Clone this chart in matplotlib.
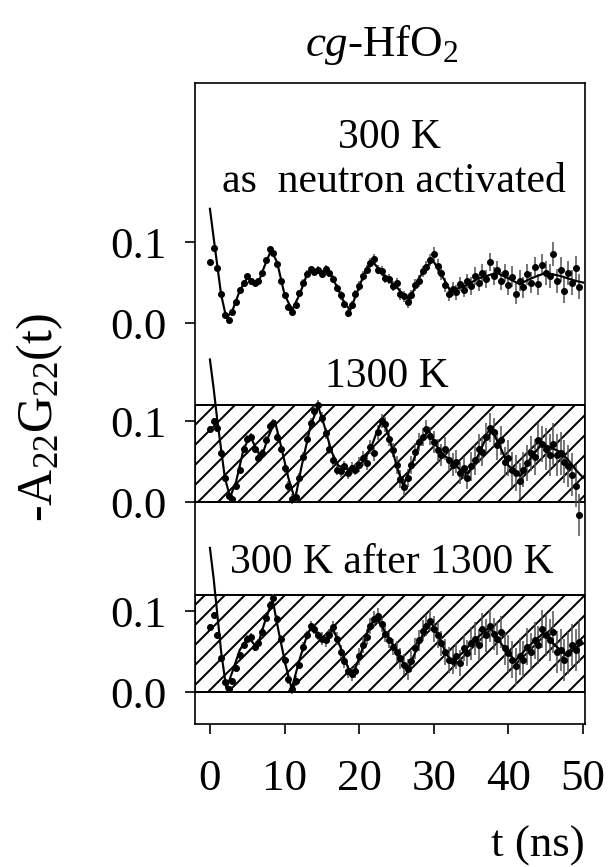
import numpy as np
import matplotlib
matplotlib.use('Agg')
import matplotlib.pyplot as plt
from matplotlib.patches import Rectangle

plt.rcParams['font.family'] = ['Liberation Serif', 'DejaVu Serif']
plt.rcParams['mathtext.fontset'] = 'custom'
plt.rcParams['mathtext.rm'] = 'Liberation Serif'
plt.rcParams['mathtext.it'] = 'Liberation Serif:italic'
plt.rcParams['hatch.linewidth'] = 1.2

# time channels (ns)
t_data = np.arange(0, 50, 0.5)

# 300 K as neutron activated
p1_data = [0.075, 0.092, 0.068, 0.036, 0.010, 0.004, 0.014, 0.026, 0.041, 0.050,
           0.058, 0.052, 0.049, 0.052, 0.062, 0.078, 0.091, 0.086, 0.073, 0.052,
           0.034, 0.020, 0.014, 0.022, 0.037, 0.050, 0.061, 0.067, 0.063, 0.066,
           0.061, 0.067, 0.062, 0.054, 0.043, 0.034, 0.024, 0.012, 0.022, 0.036,
           0.046, 0.058, 0.066, 0.074, 0.079, 0.066, 0.064, 0.055, 0.054, 0.046,
           0.049, 0.036, 0.033, 0.026, 0.034, 0.047, 0.052, 0.064, 0.069, 0.078,
           0.085, 0.070, 0.062, 0.047, 0.036, 0.042, 0.038, 0.048, 0.041, 0.052,
           0.046, 0.058, 0.050, 0.062, 0.054, 0.075, 0.058, 0.066, 0.052, 0.062,
           0.047, 0.057, 0.036, 0.052, 0.044, 0.060, 0.050, 0.069, 0.048, 0.072,
           0.062, 0.058, 0.085, 0.052, 0.066, 0.040, 0.062, 0.050, 0.068, 0.045]
p1_err = [0.003, 0.003, 0.004, 0.005, 0.006, 0.007, 0.009, 0.011, 0.013, 0.015]  # per 5 ns
p1_fit_t = [0, 0.5, 1.0, 1.5, 2.2, 3.0, 4.0, 5.0, 5.8, 6.5, 7.3, 8.2, 9.0, 10.0, 11.0,
            12.0, 13.0, 14.0, 15.0, 16.0, 17.0, 18.0, 18.8, 20.0, 21.0, 21.9, 23.0,
            24.0, 25.0, 26.0, 26.8, 28.0, 29.0, 29.9, 31.0, 32.2, 34.0, 36.0, 38.4,
            40.0, 41.5, 43.0, 45.0, 47.0, 49.0, 50.0]
p1_fit = [0.141, 0.105, 0.070, 0.035, 0.006, 0.015, 0.040, 0.056, 0.052, 0.050, 0.070,
          0.090, 0.075, 0.035, 0.016, 0.035, 0.060, 0.066, 0.064, 0.063, 0.045, 0.025,
          0.016, 0.045, 0.068, 0.075, 0.062, 0.052, 0.045, 0.033, 0.030, 0.055, 0.070,
          0.077, 0.060, 0.040, 0.045, 0.055, 0.062, 0.055, 0.048, 0.055, 0.062, 0.058,
          0.052, 0.050]

# 1300 K
p2_data = [0.090, 0.100, 0.092, 0.060, 0.030, 0.008, 0.004, 0.020, 0.040, 0.066,
           0.078, 0.080, 0.066, 0.054, 0.060, 0.076, 0.094, 0.098, 0.080, 0.066,
           0.042, 0.020, 0.004, 0.006, 0.030, 0.056, 0.078, 0.098, 0.112, 0.120,
           0.104, 0.085, 0.066, 0.052, 0.040, 0.038, 0.044, 0.036, 0.042, 0.040,
           0.046, 0.054, 0.048, 0.068, 0.060, 0.086, 0.100, 0.096, 0.078, 0.064,
           0.046, 0.028, 0.018, 0.030, 0.046, 0.062, 0.074, 0.080, 0.090, 0.082,
           0.074, 0.064, 0.058, 0.066, 0.052, 0.046, 0.050, 0.036, 0.042, 0.030,
           0.044, 0.052, 0.066, 0.062, 0.080, 0.092, 0.086, 0.070, 0.076, 0.050,
           0.054, 0.040, 0.036, 0.026, 0.040, 0.048, 0.060, 0.056, 0.076, 0.072,
           0.066, 0.058, 0.072, 0.058, 0.060, 0.050, 0.044, 0.034, 0.020, -0.016]
p2_err = [0.004, 0.005, 0.006, 0.007, 0.009, 0.011, 0.014, 0.018, 0.022, 0.026]
p2_fit_t = [0, 0.5, 1.0, 1.5, 2.0, 2.7, 3.5, 4.5, 5.4, 6.2, 6.9, 7.8, 8.7, 9.5, 10.5,
            11.4, 12.3, 13.5, 14.5, 15.3, 16.3, 17.2, 18.5, 19.5, 20.5, 21.5, 22.3,
            23.2, 24.0, 25.0, 25.9, 27.0, 28.2, 29.3, 30.3, 31.3, 32.5, 33.5, 34.6,
            35.8, 36.8, 37.8, 38.8, 40.0, 41.6, 43.0, 44.5, 45.5, 46.9, 48.0, 49.0, 50.0]
p2_fit = [0.176, 0.140, 0.100, 0.065, 0.030, 0.006, 0.025, 0.065, 0.082, 0.065, 0.055,
          0.080, 0.100, 0.070, 0.030, 0.003, 0.045, 0.095, 0.118, 0.095, 0.062, 0.045,
          0.040, 0.042, 0.050, 0.065, 0.085, 0.103, 0.080, 0.045, 0.020, 0.045, 0.075,
          0.088, 0.070, 0.058, 0.050, 0.040, 0.035, 0.055, 0.075, 0.088, 0.070, 0.045,
          0.032, 0.055, 0.072, 0.068, 0.062, 0.052, 0.040, 0.030]

# 300 K after 1300 K
p3_data = [0.080, 0.095, 0.070, 0.042, 0.012, 0.004, 0.014, 0.030, 0.046, 0.058,
           0.066, 0.068, 0.056, 0.060, 0.074, 0.092, 0.108, 0.116, 0.090, 0.066,
           0.040, 0.016, 0.004, 0.014, 0.034, 0.056, 0.070, 0.082, 0.078, 0.070,
           0.066, 0.064, 0.070, 0.080, 0.066, 0.050, 0.038, 0.026, 0.022, 0.026,
           0.044, 0.058, 0.068, 0.082, 0.090, 0.094, 0.084, 0.072, 0.064, 0.056,
           0.050, 0.042, 0.034, 0.028, 0.038, 0.054, 0.064, 0.076, 0.082, 0.088,
           0.078, 0.070, 0.060, 0.050, 0.040, 0.038, 0.044, 0.036, 0.054, 0.048,
           0.060, 0.066, 0.058, 0.078, 0.070, 0.082, 0.072, 0.066, 0.074, 0.054,
           0.048, 0.040, 0.032, 0.044, 0.040, 0.056, 0.050, 0.064, 0.058, 0.078,
           0.070, 0.064, 0.074, 0.050, 0.052, 0.040, 0.048, 0.058, 0.052, 0.062]
p3_err = [0.004, 0.005, 0.006, 0.008, 0.010, 0.013, 0.016, 0.020, 0.023, 0.026]
p3_fit_t = [0, 0.5, 1.0, 1.5, 2.2, 3.0, 4.0, 5.1, 6.3, 7.3, 8.4, 9.2, 10.1, 10.95, 12.0,
            13.0, 13.6, 14.5, 15.4, 16.5, 17.5, 18.5, 19.2, 20.3, 21.3, 22.3, 23.4,
            24.4, 25.5, 26.6, 27.8, 28.8, 29.7, 30.8, 31.8, 32.6, 34.0, 35.5, 37.5,
            39.0, 40.9, 42.5, 44.7, 46.2, 47.8, 49.0, 50.0]
p3_fit = [0.178, 0.140, 0.095, 0.050, 0.004, 0.025, 0.052, 0.068, 0.055, 0.085, 0.114,
          0.075, 0.035, 0.004, 0.040, 0.070, 0.080, 0.070, 0.064, 0.078, 0.055, 0.030,
          0.022, 0.050, 0.080, 0.093, 0.075, 0.060, 0.040, 0.030, 0.055, 0.078, 0.085,
          0.065, 0.045, 0.038, 0.050, 0.065, 0.080, 0.060, 0.038, 0.055, 0.073, 0.058,
          0.045, 0.055, 0.060]

offsets = [0.0, -0.221, -0.4556]
hatched = [False, True, True]
panels = [(p1_data, p1_err, p1_fit_t, p1_fit),
          (p2_data, p2_err, p2_fit_t, p2_fit),
          (p3_data, p3_err, p3_fit_t, p3_fit)]

fig = plt.figure(figsize=(609 / 120, 867 / 120), dpi=120)
ax = fig.add_axes([195 / 609, 1 - 724 / 867, 390 / 609, 641 / 867])
xmin, xmax = -2.0, 50.25

for (vals, errb, ft, fv), off, hat in zip(panels, offsets, hatched):
    if hat:
        ax.add_patch(Rectangle((xmin, off), xmax - xmin, 0.12, facecolor='white',
                               edgecolor='black', hatch='//', lw=1.2, zorder=1))
    ax.errorbar(t_data, np.array(vals) + off, yerr=np.repeat(errb, 10), fmt='o',
                ms=3.2, color='black', ecolor='0.3', elinewidth=0.9, capsize=0, zorder=2)
    ax.plot(ft, np.array(fv) + off, color='black', lw=1.3, zorder=3)

ax.set_xlim(xmin, xmax)
ax.set_ylim(-0.495, 0.2963)
ax.set_xticks([0, 10, 20, 30, 40, 50])
yt = []
for off in offsets:
    yt += [off, off + 0.1]
ax.set_yticks(yt, ['0.0', '0.1'] * 3)
ax.tick_params(direction='out', length=6, width=1.0, labelsize=27)
ax.tick_params(axis='y', pad=11)
ax.tick_params(axis='x', pad=15)
for s in ax.spines.values():
    s.set_linewidth(1.0)

fs = 25
ax.text(24.1, 0.216, '300 K', ha='center', va='baseline', fontsize=fs)
ax.text(24.7, 0.162, 'as  neutron activated', ha='center', va='baseline', fontsize=fs)
ax.text(23.7, -0.079, '1300 K', ha='center', va='baseline', fontsize=fs)
ax.text(24.4, -0.309, '300 K after 1300 K', ha='center', va='baseline', fontsize=fs)

fig.text(382 / 609, 1 - 56 / 867, r'$\mathit{cg}$-HfO$_2$', ha='center', va='baseline', fontsize=27)
fig.text(538 / 609, 1 - 857 / 867, 't (ns)', ha='center', va='baseline', fontsize=27)
fig.text(40 / 609, 1 - 417 / 867, r'-A$_{22}$G$_{22}$(t)', ha='center', va='center',
         rotation=90, fontsize=30)

fig.savefig('out.png', dpi=120)
